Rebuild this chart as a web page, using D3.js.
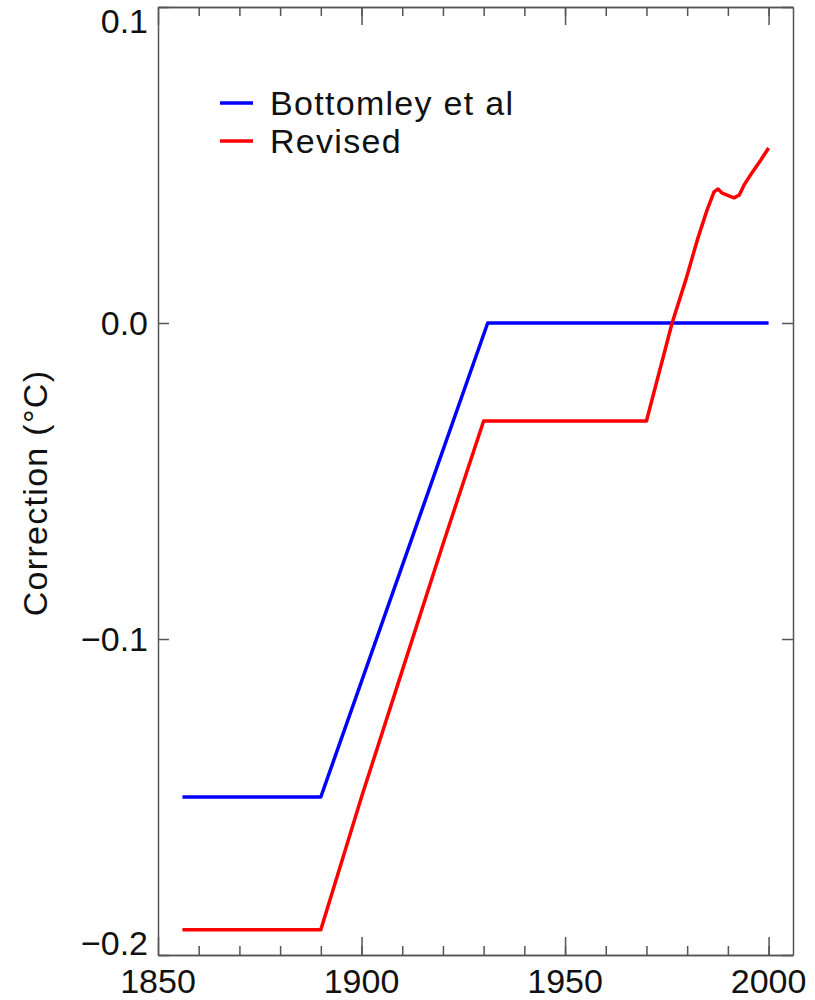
<!DOCTYPE html>
<html>
<head>
<meta charset="utf-8">
<script src="https://cdn.jsdelivr.net/npm/d3@7"></script>
<style>
  body { margin: 0; background: #fff; }
  svg text { font-family: "Liberation Sans", Arial, sans-serif; fill: #111; }
</style>
</head>
<body>
<svg id="chart" width="815" height="1000"></svg>
<script>
"use strict";

// series
const blueYears = [1856, 1890, 1931, 2000];
const blueVals = [-0.150, -0.150, 0.0, 0.0];

const redYears = [1856, 1890, 1900, 1910, 1920, 1930, 1970, 1976.3, 1979.8, 1982.5,
	1984.9, 1986.6, 1987.6, 1988.6, 1991.5, 1992.8, 1994.0, 1995.9, 1998.1, 2000];
const redVals = [-0.192, -0.192, -0.150, -0.110, -0.070, -0.031, -0.031, 0.0, 0.0142, 0.0263,
	0.0358, 0.0415, 0.0424, 0.0411, 0.0396, 0.0405, 0.0437, 0.0475, 0.0516, 0.0554];

const xTicks = [1850, 1900, 1950, 2000];
const xMinor = d3.range(1860, 2001, 10);
const yTicks = [0.1, 0.0, -0.1, -0.2];
const yLabels = ["0.1", "0.0", "\u22120.1", "\u22120.2"];

const seriesNames = ["Bottomley et al", "Revised"];
const seriesColors = ["#0000ff", "#ff0000"];

(() => {
	const svg = d3.select("#chart");
	const left = 158, right = 793, top = 7, bottom = 955;

	const x = d3.scaleLinear().domain([1850, 2006]).range([left, right]);
	const y = d3.scaleLinear().domain([-0.2, 0.1]).range([bottom, top]);

	const axisColor = "#555";

	function styleAxis(g) {
		g.selectAll("path.domain").attr("stroke", axisColor).attr("stroke-width", 1.5);
		g.selectAll(".tick line").attr("stroke", axisColor).attr("stroke-width", 1.5);
		g.selectAll(".tick text").remove();
	}

	// bottom / top, ticks point inward
	svg.append("g").attr("transform", `translate(0,${bottom})`)
		.call(d3.axisBottom(x).tickValues(xMinor).tickSizeInner(-9).tickSizeOuter(0))
		.call(styleAxis);
	svg.append("g").attr("transform", `translate(0,${bottom})`)
		.call(d3.axisBottom(x).tickValues(xTicks).tickSizeInner(-18).tickSizeOuter(0))
		.call(styleAxis);
	svg.append("g").attr("transform", `translate(0,${top})`)
		.call(d3.axisTop(x).tickValues(xMinor).tickSizeInner(-9).tickSizeOuter(0))
		.call(styleAxis);
	svg.append("g").attr("transform", `translate(0,${top})`)
		.call(d3.axisTop(x).tickValues(xTicks).tickSizeInner(-18).tickSizeOuter(0))
		.call(styleAxis);

	// left / right
	svg.append("g").attr("transform", `translate(${left},0)`)
		.call(d3.axisLeft(y).tickValues(yTicks).tickSizeInner(-11).tickSizeOuter(0))
		.call(styleAxis);
	svg.append("g").attr("transform", `translate(${right},0)`)
		.call(d3.axisRight(y).tickValues(yTicks).tickSizeInner(-11).tickSizeOuter(0))
		.call(styleAxis);

	// tick labels
	svg.append("g").selectAll("text")
		.data(xTicks).enter()
		.append("text")
		.attr("x", d => x(d))
		.attr("y", bottom + 38)
		.attr("text-anchor", "middle")
		.attr("font-size", 34)
		.text(d => d);

	svg.append("g").selectAll("text")
		.data(yTicks).enter()
		.append("text")
		.attr("x", left - 10)
		.attr("y", (d, i) => {
			// end labels are nudged inside the frame, like the original
			if (i === 0) return y(d) + 26;
			if (i === yTicks.length - 1) return y(d);
			return y(d) + 12;
		})
		.attr("text-anchor", "end")
		.attr("font-size", 34)
		.text((d, i) => yLabels[i]);

	svg.append("text")
		.attr("transform", "translate(47,493) rotate(-90)")
		.attr("text-anchor", "middle")
		.attr("font-size", 34)
		.attr("letter-spacing", 1.3)
		.text("Correction (\u00b0C)");

	// lines
	const line = d3.line().x(d => x(d[0])).y(d => y(d[1]));
	const blue = blueYears.map((yr, i) => [yr, blueVals[i]]);
	const red = redYears.map((yr, i) => [yr, redVals[i]]);

	[blue, red].forEach((pts, i) => {
		svg.append("path")
			.datum(pts)
			.attr("d", line)
			.attr("fill", "none")
			.attr("stroke", seriesColors[i])
			.attr("stroke-width", 3.5)
			.attr("stroke-linejoin", "round");
	});

	// legend
	const leg = svg.append("g");
	seriesNames.forEach((name, i) => {
		const ly = 103 + i * 38;
		leg.append("line")
			.attr("x1", 220).attr("x2", 253)
			.attr("y1", ly).attr("y2", ly)
			.attr("stroke", seriesColors[i])
			.attr("stroke-width", 3.5);
		leg.append("text")
			.attr("x", 270)
			.attr("y", ly + 12)
			.attr("font-size", 34)
			.attr("letter-spacing", 1.3)
			.text(name);
	});
})();
</script>
</body>
</html>
